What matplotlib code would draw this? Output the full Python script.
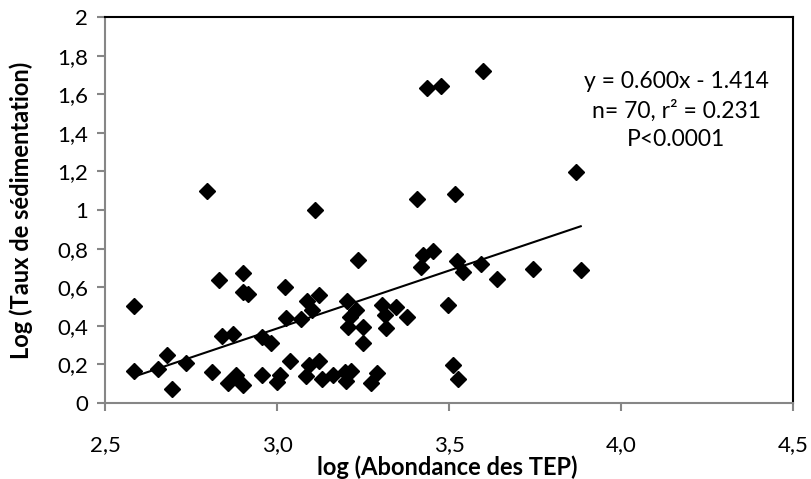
import matplotlib
matplotlib.use("Agg")
import matplotlib.pyplot as plt
import numpy as np

plt.rcParams['font.family'] = ['Lato', 'DejaVu Sans']

# log (Abondance des TEP) / log (Taux de sédimentation)
x_tep = [2.585, 2.585, 2.655, 2.679, 2.696, 2.735, 2.796, 2.810, 2.831, 2.839,
         2.857, 2.871, 2.881, 2.900, 2.900, 2.900, 2.917, 2.955, 2.955, 2.983,
         3.001, 3.009, 3.023, 3.026, 3.038, 3.070, 3.084, 3.086, 3.094, 3.101,
         3.110, 3.123, 3.123, 3.130, 3.164, 3.198, 3.201, 3.203, 3.207, 3.212,
         3.214, 3.230, 3.236, 3.251, 3.251, 3.273, 3.290, 3.304, 3.314, 3.317,
         3.345, 3.377, 3.406, 3.418, 3.425, 3.437, 3.454, 3.476, 3.496, 3.513,
         3.517, 3.524, 3.527, 3.540, 3.593, 3.598, 3.639, 3.745, 3.868, 3.883]
y_sed = [0.504, 0.167, 0.176, 0.250, 0.073, 0.207, 1.098, 0.161, 0.636, 0.347,
         0.102, 0.357, 0.147, 0.095, 0.675, 0.575, 0.563, 0.340, 0.143, 0.309,
         0.110, 0.145, 0.603, 0.439, 0.219, 0.434, 0.140, 0.530, 0.197, 0.482,
         1.000, 0.560, 0.219, 0.123, 0.145, 0.162, 0.116, 0.530, 0.395, 0.444,
         0.167, 0.482, 0.741, 0.392, 0.313, 0.102, 0.157, 0.508, 0.456, 0.387,
         0.499, 0.444, 1.055, 0.706, 0.767, 1.634, 0.789, 1.644, 0.508, 0.195,
         1.081, 0.737, 0.126, 0.680, 0.718, 1.722, 0.641, 0.694, 1.198, 0.689]

# droite de régression affichée
pente = 0.600
ordonnee = -1.414

xtick_vals = [2.5, 3.0, 3.5, 4.0, 4.5]
xtick_labels = ['2,5', '3,0', '3,5', '4,0', '4,5']
ytick_vals = [0, 0.2, 0.4, 0.6, 0.8, 1.0, 1.2, 1.4, 1.6, 1.8, 2.0]
ytick_labels = ['0', '0,2', '0,4', '0,6', '0,8', '1', '1,2', '1,4', '1,6', '1,8', '2']

fig = plt.figure(figsize=(8.11, 4.79), dpi=100)
ax = fig.add_axes([105/811, 1 - 403/479, 688/811, 386/479])

ax.plot(x_tep, y_sed, linestyle='none', marker='D', markersize=8,
        color='black', zorder=3)

xl = np.array([min(x_tep), max(x_tep)])
ax.plot(xl, pente * xl + ordonnee, color='black', linewidth=1.5, zorder=2)

ax.text(0.83, 0.757,
        'y = 0.600x - 1.414\nn= 70, r² = 0.231\nP<0.0001',
        transform=ax.transAxes, ha='center', va='center',
        fontsize=16.5, linespacing=1.42)

ax.set_xlim(2.5, 4.5)
ax.set_ylim(0, 2)
ax.set_xticks(xtick_vals)
ax.set_xticklabels(xtick_labels)
ax.set_yticks(ytick_vals)
ax.set_yticklabels(ytick_labels)

gris = '#868686'
for s in ['left', 'bottom']:
    ax.spines[s].set_color(gris)
    ax.spines[s].set_linewidth(1.5)
for s in ['top', 'right']:
    ax.spines[s].set_color('black')
    ax.spines[s].set_linewidth(1.5)

ax.tick_params(axis='both', direction='out', length=6, width=1.5,
               color=gris, labelsize=16)
ax.tick_params(axis='x', pad=17)
ax.tick_params(axis='y', pad=6)

ax.set_xlabel('log (Abondance des TEP)', fontsize=17, fontweight='bold')
ax.xaxis.set_label_coords(0.497, -0.137)
ax.set_ylabel('Log (Taux de sédimentation)', fontsize=17, fontweight='bold')
ax.yaxis.set_label_coords(-0.104, 0.5)

fig.savefig('out.png', dpi=100)
